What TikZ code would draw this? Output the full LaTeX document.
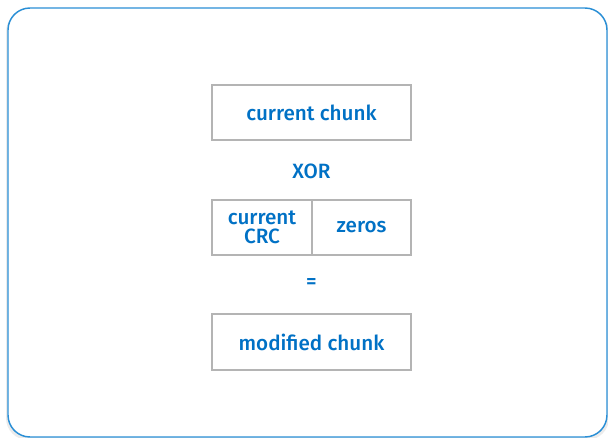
\documentclass[tikz,border=0pt]{standalone}
\usepackage{fontspec}
\setmainfont{Fira Sans}[UprightFont=* Medium]
\definecolor{inkblue}{HTML}{0071C5}
\definecolor{frameblue}{HTML}{2A8FD6}
\definecolor{boxgrey}{HTML}{B4B4B4}
\begin{document}
\begin{tikzpicture}[x=0.75pt,y=-0.75pt,
  cell/.style={draw=boxgrey,line width=1.3pt,fill=white,inner sep=0pt},
  label/.style={text=inkblue,font=\fontsize{15.5}{15.5}\selectfont,align=center},
  stacked/.style={text=inkblue,font=\fontsize{15.5}{14.5}\selectfont,align=center}]
\useasboundingbox (0,0) rectangle (608,438);
% outer panel with soft shadow
\fill[black!8] (6,10) [rounded corners=16.5pt] rectangle (609,440);
\draw[frameblue,line width=1.1pt,fill=white,rounded corners=16.5pt] (8,8) rectangle (607,437);
% operand boxes
\draw[cell] (212,85) rectangle (411,140);
\node[label] (chunk) at (311.5,112.5) {current chunk};
\node[label] (xor) at (311.5,171) {XOR};
\draw[cell] (212,200) rectangle (312,255);
\draw[cell] (312,200) rectangle (411,255);
\node[stacked] (crc) at (262,227.5) {current\\CRC};
\node[label] (zeros) at (361.5,227.5) {zeros};
\node[label] (eq) at (311.5,284) {=};
\draw[cell] (212,314) rectangle (411,370);
\node[label] (modified) at (311.5,342) {modified chunk};
\end{tikzpicture}
\end{document}
